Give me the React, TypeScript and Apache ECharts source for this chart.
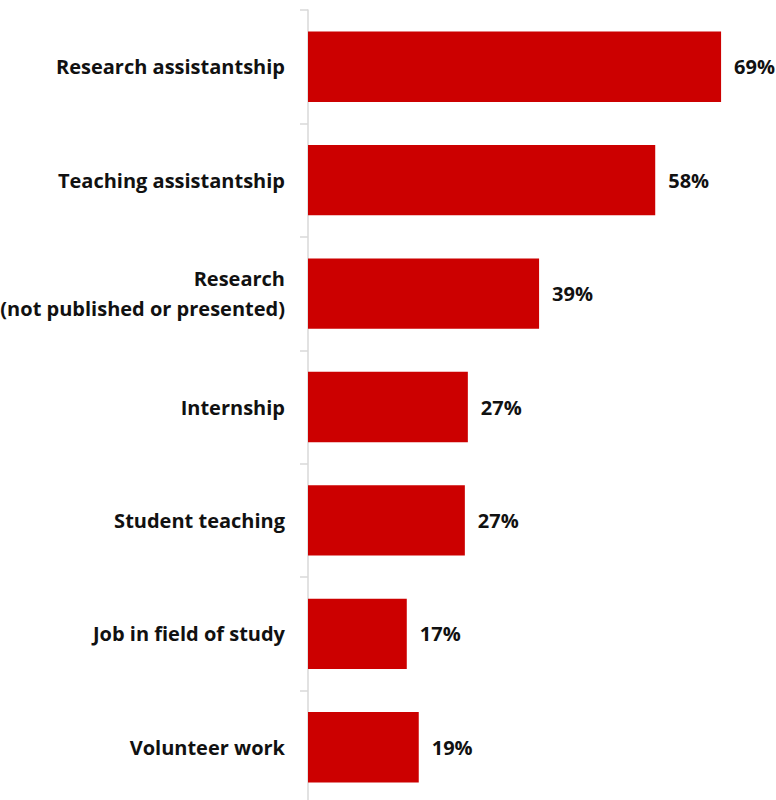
import React, { useEffect, useRef } from "react";
import * as echarts from "echarts";

const categories = [
  "Research assistantship",
  "Teaching assistantship",
  "Research\n(not published or presented)",
  "Internship",
  "Student teaching",
  "Job in field of study",
  "Volunteer work",
];
const values = [69, 58, 38.6, 26.7, 26.2, 16.5, 18.5];
const valueLabels = ["69%", "58%", "39%", "27%", "27%", "17%", "19%"];

export default function App() {
  const ref = useRef<HTMLDivElement>(null);
  useEffect(() => {
    if (!ref.current) return;
    const chart = echarts.init(ref.current, null, { renderer: "svg" });
    chart.setOption({
      animation: false,
      backgroundColor: "#ffffff",
      grid: {
        left: 308,
        top: 10,
        width: 449,
        height: 794,
        containLabel: false,
        outerBoundsMode: "none",
      },
      xAxis: {
        type: "value",
        min: 0,
        max: 75,
        show: false,
        splitLine: { show: false },
      },
      yAxis: {
        type: "category",
        data: categories,
        inverse: true,
        axisLine: { show: true, lineStyle: { color: "#d9d9d9", width: 1.5 } },
        axisTick: { show: true, inside: false, length: 8, lineStyle: { color: "#d9d9d9", width: 1.5 } },
        axisLabel: {
          margin: 23,
          color: "#111111",
          fontFamily: "Open Sans",
          fontWeight: "bold",
          fontSize: 20,
          lineHeight: 30,
          align: "right",
        },
      },
      series: [
        {
          type: "bar",
          data: values,
          barCategoryGap: "38%",
          itemStyle: { color: "#cc0000" },
          label: {
            show: true,
            position: "right",
            distance: 13,
            color: "#111111",
            fontFamily: "Open Sans",
            fontWeight: "bold",
            fontSize: 20,
            formatter: (p: any) => valueLabels[p.dataIndex],
          },
        },
      ],
    });
    return () => chart.dispose();
  }, []);
  return (
    <div
      ref={ref}
      style={{ position: "absolute", left: 0, top: 0, width: 776, height: 800 }}
    />
  );
}
